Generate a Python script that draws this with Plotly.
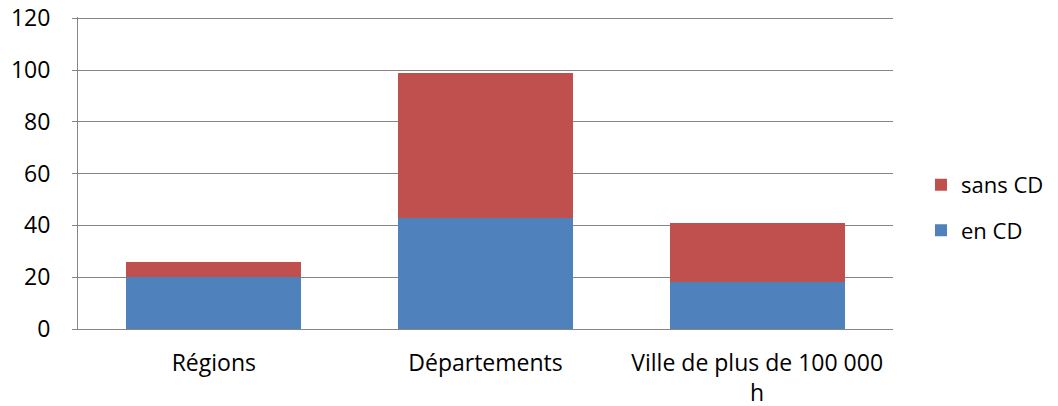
import plotly.graph_objects as go

categories = ["Régions", "Départements", "Ville de plus de 100 000<br>h"]
en_cd = [20, 43, 18]
sans_cd = [6, 56, 23]
y_ticks = [0, 20, 40, 60, 80, 100, 120]

FONT = "Open Sans, sans-serif"

fig = go.Figure()
fig.add_trace(go.Bar(x=categories, y=en_cd, name="en CD", marker_color="#4F81BD",
                     marker_line_width=0, legendgroup="a", legendrank=2))
fig.add_trace(go.Bar(x=categories, y=sans_cd, name="sans CD", marker_color="#C0504D",
                     marker_line_width=0, legendgroup="b", legendrank=1))

fig.update_layout(
    barmode="stack",
    bargap=0.356,
    width=1058, height=406,
    margin=dict(l=78, r=165, t=17, b=77),
    plot_bgcolor="white", paper_bgcolor="white",
    font=dict(family=FONT, size=23, color="#000000"),
    legend=dict(xref="container", yref="container", x=0.8705, y=0.488,
                xanchor="left", yanchor="middle",
                traceorder="grouped", tracegroupgap=14,
                font=dict(size=22), itemwidth=30),
    xaxis=dict(showline=True, linecolor="#868686", linewidth=1, ticks="",
               tickfont=dict(size=23), showgrid=False, automargin=False,
               ticklabelstandoff=13),
    yaxis=dict(range=[0, 120.5], tickvals=y_ticks, showline=True, linecolor="#868686",
               linewidth=1, ticks="outside", ticklen=5, tickcolor="#868686",
               gridcolor="#868686", gridwidth=1, tickfont=dict(size=23),
               zeroline=False, automargin=False, ticklabelstandoff=17,
               ticklabeloverflow="allow"),
)

fig.write_html("out.html", config={"displayModeBar": False})

# remove the default 8px page margin so the figure sits at the window's corner
with open("out.html", "r", encoding="utf-8") as f:
    html = f.read()
html = html.replace("<head>", "<head><style>html,body{margin:0;padding:0;overflow:hidden;}</style>", 1)
with open("out.html", "w", encoding="utf-8") as f:
    f.write(html)
